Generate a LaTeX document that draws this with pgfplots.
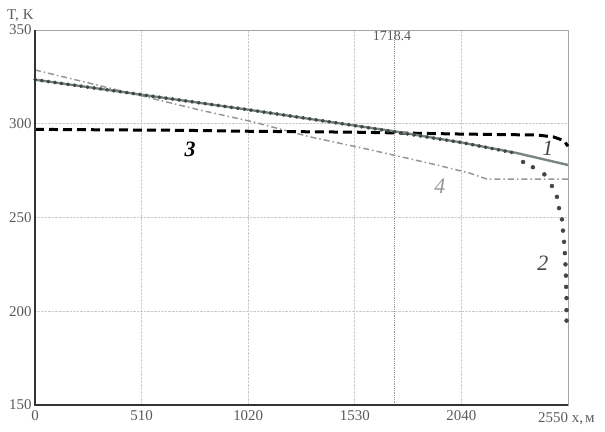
\documentclass[border=0pt]{standalone}
\usepackage{pgfplots}
\pgfplotsset{compat=1.18}
\usepackage{fontspec}
\setmainfont{Liberation Serif}
\definecolor{c1}{RGB}{120,134,126}
\definecolor{c2}{RGB}{62,72,72}
\definecolor{c4}{RGB}{150,150,150}
\definecolor{tk}{RGB}{90,90,90}
\begin{document}
\begin{tikzpicture}
\begin{axis}[
  scale only axis, width=533bp, height=375bp,
  xmin=0, xmax=2550, ymin=150, ymax=350,
  xtick={0,510,1020,1530,2040,2550},
  xticklabels={0,510,1020,1530,2040,{}},
  ytick={150,200,250,300,350},
  major tick length=0pt,
  grid=major,
  grid style={densely dotted, color=gray!40, line width=0.7pt},
  axis line style={draw=gray!70, line width=0.8pt},
  /pgf/number format/assume math mode=true,
  /pgf/number format/set thousands separator={},
  ticklabel style={font=\fontsize{15}{15}\selectfont, text=tk},
  xticklabel style={yshift=-2bp},
  clip=false,
]
\coordinate (o) at (rel axis cs:0,0);
% vertical marker
\addplot[densely dotted, color=gray!80, line width=0.8pt] coordinates {(1718.4,150) (1718.4,350)};
% curve 4
\addplot[color=c4, line width=1.5bp, dash pattern=on 6bp off 3bp on 1.5bp off 3bp]
 coordinates {(0,328.7) (789,307.3) (1043,301) (1316,293) (1588,286.5) (1923,278) (2081,273.6) (2162,270.5) (2550,270.5)};
% curve 3
\addplot[color=black, line width=3bp, dash pattern=on 9bp off 5bp]
 coordinates {(0,297) (700,296.5) (1020,296) (1530,295.5) (2040,294.5) (2400,294) (2480,293) (2530,291) (2550,288)};
% curve 1
\addplot[color=c1, line width=2.4bp]
 coordinates {(0,323.5) (510,315.5) (1020,307.5) (1530,299) (1718,296) (2040,290) (2300,284.5) (2550,278)};
% curve 2 (upper, dense dots)
\addplot[color=c2, line width=3.6bp, line cap=round, dash pattern=on 0.6bp off 6bp]
 coordinates {(0,323.5) (510,315.5) (1020,307.5) (1530,299) (2040,290) (2290,284.5)};
% curve 2 (lower, dots)
\addplot[only marks, mark=*, mark size=2bp, color=c2]
 coordinates {(2335,279.6) (2382,276.8) (2437,273) (2473,266.8) (2497,261) (2507,255) (2521,249) (2526,243) (2531,237) (2535,231) (2538,225) (2540,219) (2541,213) (2543,207) (2543,200.6) (2543,195)};
% left & bottom axis lines darker
\draw[black!80, line width=1.2pt] (rel axis cs:0,1) -- (rel axis cs:0,0) -- (rel axis cs:1,0);
% labels
\node[anchor=base, font=\fontsize{14}{14}\selectfont, text=tk] at (axis cs:1708,344.5) {1718.4};
\node[anchor=base, font=\fontsize{22}{22}\selectfont\itshape, text=c2] at (axis cs:2454,283) {1};
\node[anchor=base, font=\fontsize{22}{22}\selectfont\itshape, text=c2] at (axis cs:2430,222) {2};
\node[anchor=base, font=\fontsize{22}{22}\selectfont\itshape\bfseries, text=black] at (axis cs:742,282.5) {3};
\node[anchor=base, font=\fontsize{22}{22}\selectfont\itshape, text=c4] at (axis cs:1937,263) {4};
\node[anchor=base west, font=\fontsize{15}{15}\selectfont, text=tk, inner sep=0pt] at ([xshift=-30bp,yshift=-17bp]rel axis cs:1,0) {2550 x,\hspace{2bp}м};
\node[anchor=base west, font=\fontsize{15}{15}\selectfont, text=tk, inner sep=0pt] at ([xshift=-28bp,yshift=10bp]rel axis cs:0,1) {T,\hspace{4bp}K};
\end{axis}
\pgfresetboundingbox
\path[use as bounding box] ([xshift=-35bp,yshift=-27bp]o) rectangle ++(605bp,432bp);
\end{tikzpicture}
\end{document}
